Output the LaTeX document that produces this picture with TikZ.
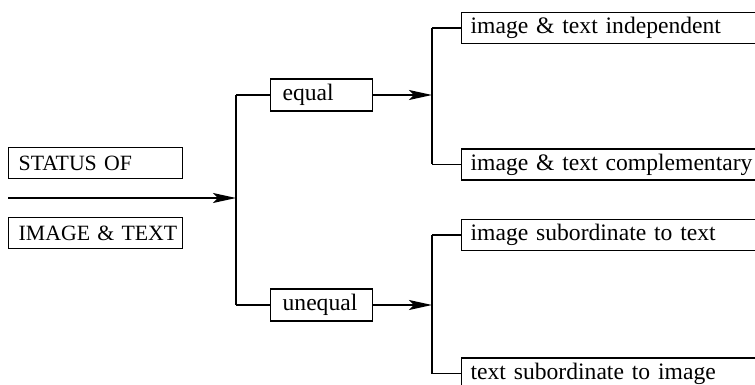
\documentclass[tikz,border=0pt]{standalone}
\usepackage{fontspec}
\setmainfont{Liberation Serif}
\usetikzlibrary{arrows.meta}
\begin{document}
\begin{tikzpicture}[x=0.5pt,y=-0.5pt,
  line width=0.65pt,
  font=\fontsize{11.8}{14}\selectfont,
  box/.style={draw, anchor=west, minimum height=15.5pt, inner xsep=0pt, inner ysep=0pt, align=left},
  lbox/.style={box, minimum width=87pt, text width=87pt, font=\fontsize{10.9}{13}\selectfont},
  mbox/.style={box, minimum width=51pt, text width=51pt, minimum height=16pt},
  rbox/.style={box, minimum width=170pt, text width=170pt},
  arr/.style={-{Stealth[length=11.5pt,width=5pt,inset=2.5pt]}}
]
\useasboundingbox (0,0) rectangle (755,385);
\clip (0,0) rectangle (755,385);
% left boxes
\node[lbox] (s1) at (8,163) {\hspace*{5pt}STATUS OF};
\node[lbox] (s2) at (8,233) {\hspace*{5pt}IMAGE \& TEXT};
\coordinate (src) at (8,198);
\coordinate (j1) at (236,198);
\coordinate (j1t) at (236,95);
\coordinate (j1b) at (236,305);
\draw[arr] (src) -- (j1);
\draw (j1t) -- (j1b);
% middle boxes
\node[mbox] (eq) at (270,95) {\hspace*{6pt}equal};
\node[mbox] (ne) at (270,305) {\hspace*{6pt}unequal};
\draw (j1t) -- (eq.west);
\draw (j1b) -- (ne.west);
\coordinate (j2) at (432,95);
\coordinate (j3) at (432,305);
\draw[arr] (eq.east) -- (j2);
\draw[arr] (ne.east) -- (j3);
\coordinate (j2t) at (432,28);
\coordinate (j2b) at (432,164.5);
\coordinate (j3t) at (432,235);
\coordinate (j3b) at (432,373.5);
\draw (j2t) -- (j2b);
\draw (j3t) -- (j3b);
% right boxes
\node[rbox] (r1) at (461,28) {\hspace*{4.5pt}image \& text independent};
\node[rbox] (r2) at (461,164.5) {\hspace*{4.5pt}image \& text complementary};
\node[rbox] (r3) at (461,235) {\hspace*{4.5pt}image subordinate to text};
\node[rbox] (r4) at (461,373.5) {\hspace*{4.5pt}text subordinate to image};
\draw (j2t) -- (r1.west);
\draw (j2b) -- (r2.west);
\draw (j3t) -- (r3.west);
\draw (j3b) -- (r4.west);
\end{tikzpicture}
\end{document}
